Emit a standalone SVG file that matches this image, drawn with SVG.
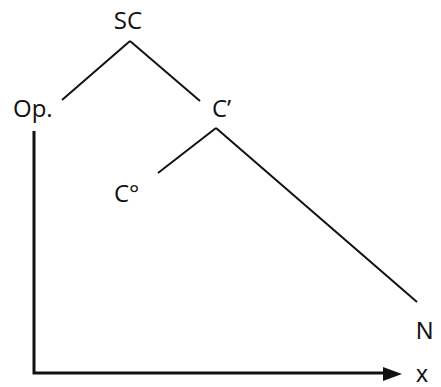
<svg xmlns="http://www.w3.org/2000/svg" width="441" height="387" viewBox="0 0 441 387">
<style>
.lbl{font-family:"Open Sans","Noto Sans",sans-serif;font-size:24px;fill:#111}
.lbl2{font-family:"Liberation Sans",Arial,sans-serif;fill:#111}
.ln{stroke:#111;stroke-width:2;fill:none}
</style>
<rect width="441" height="387" fill="#fff"/>
<g id="connectors">
<line class="ln" x1="130" y1="41" x2="62" y2="100"/>
<line class="ln" x1="130" y1="41" x2="200" y2="101"/>
<line class="ln" x1="216" y1="128" x2="158" y2="173"/>
<line class="ln" x1="216" y1="128" x2="417" y2="302"/>
<path d="M34,131 L34,373 L384,373" stroke="#111" stroke-width="3" fill="none"/>
<path d="M383,367 L402,374 L383,381 Z" fill="#111"/>
</g>
<g id="SC"><text class="lbl" x="128" y="29" text-anchor="middle">SC</text></g>
<g id="Op"><text class="lbl" x="13" y="117">Op.</text></g>
<g id="Cbar"><text class="lbl" x="212" y="117">C’</text></g>
<g id="C0"><text class="lbl" x="114" y="202">C°</text></g>
<g id="N"><text class="lbl2" x="416" y="339" font-size="24">N</text></g>
<g id="x"><text class="lbl2" x="416" y="382" font-size="24">x</text></g>
</svg>
